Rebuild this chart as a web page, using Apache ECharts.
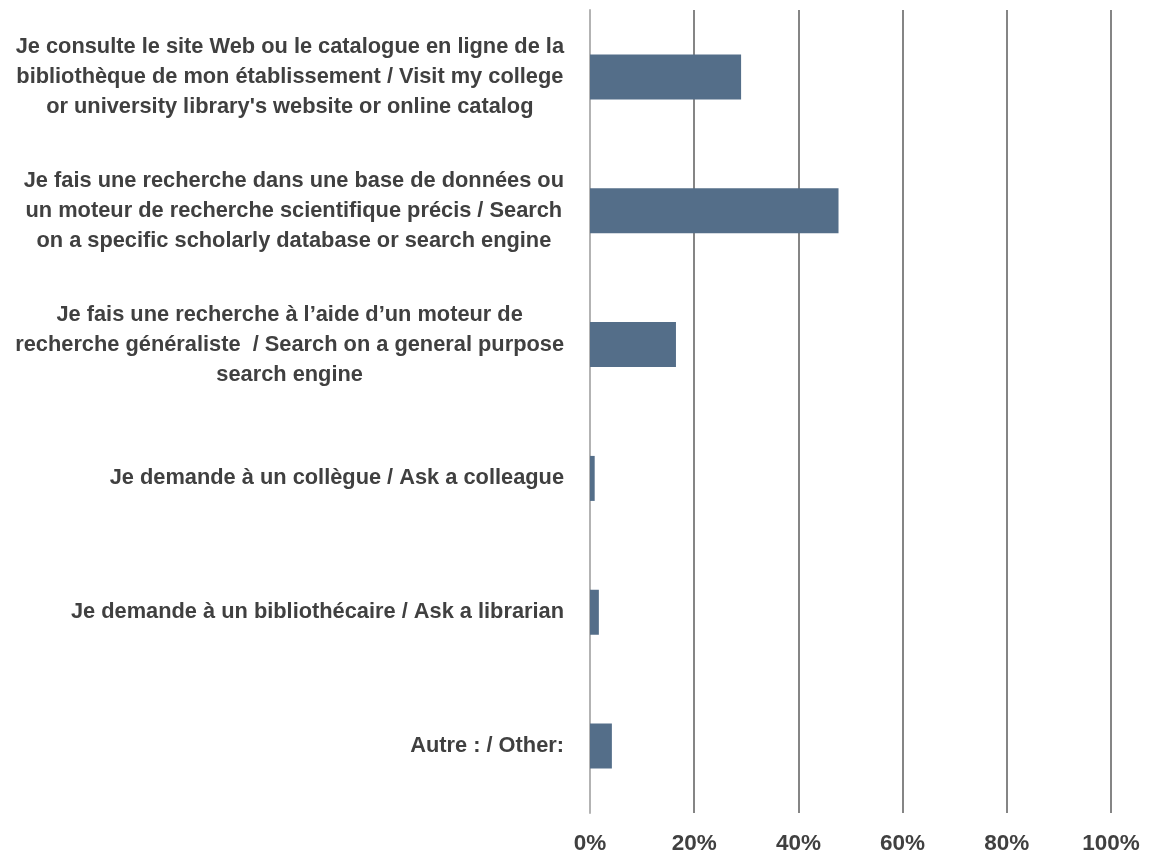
<!DOCTYPE html>
<html>
<head>
<meta charset="utf-8">
<script src="https://cdn.jsdelivr.net/npm/echarts@6/dist/echarts.min.js"></script>
<style>
  html, body { margin: 0; padding: 0; background: #fff; }
  #chart { width: 1149px; height: 864px; }
</style>
</head>
<body>
<div id="chart"></div>
<script>
// categories (line breaks as in the original)
const categories = [
  "Je consulte le site Web ou le catalogue en ligne de la\nbibliothèque de mon établissement / Visit my college\nor university library's website or online catalog",
  "Je fais une recherche dans une base de données ou\nun moteur de recherche scientifique précis / Search\non a specific scholarly database or search engine",
  "Je fais une recherche à l’aide d’un moteur de\nrecherche généraliste  / Search on a general purpose\nsearch engine",
  "Je demande à un collègue / Ask a colleague",
  "Je demande à un bibliothécaire / Ask a librarian",
  "Autre : / Other:"
]
// share of respondents, %
const values = [29.0, 47.7, 16.5, 0.9, 1.7, 4.2]
const ticks = [0, 20, 40, 60, 80, 100]

const labelFont = '"Liberation Sans", Arial, sans-serif'

const myChart = echarts.init(document.getElementById('chart'))

const option = {
  animation: false,
  grid: {
    left: 590,
    right: 38,
    top: 10,
    bottom: 51,
    outerBoundsMode: 'none'
  },
  xAxis: {
    type: 'value',
    min: ticks[0],
    max: ticks[ticks.length - 1],
    interval: 20,
    axisLine: { show: false },
    axisTick: { show: false },
    splitLine: {
      show: true,
      showMinLine: false,
      lineStyle: { color: '#858585', width: 2 }
    },
    axisLabel: {
      margin: 19,
      color: '#404040',
      fontFamily: labelFont,
      fontWeight: 'bold',
      fontSize: 22.5,
      formatter: v => v + '%'
    }
  },
  yAxis: {
    type: 'category',
    inverse: true,
    data: categories,
    axisLine: { show: true, lineStyle: { color: '#b3b3b3', width: 2 } },
    axisTick: { show: false },
    axisLabel: {
      margin: 26,
      align: 'right',
      formatter: v => v.split('\n').map(l => '{c|' + l + '}').join('\n'),
      rich: {
        c: {
          align: 'center',
          color: '#404040',
          fontFamily: labelFont,
          fontWeight: 'bold',
          fontSize: 21.8,
          lineHeight: 30
        }
      }
    }
  },
  series: [
    {
      type: 'bar',
      data: values,
      barWidth: 45,
      itemStyle: { color: '#546e89' }
    }
  ]
}

myChart.setOption(option)

window.addEventListener('resize', () => {
  myChart.resize()
})
</script>
</body>
</html>
